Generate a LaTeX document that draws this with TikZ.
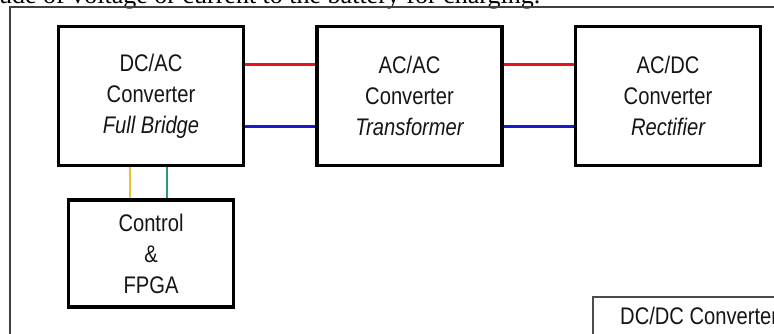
\documentclass[tikz,border=0pt]{standalone}
\usepackage{fontspec}
\newfontfamily\boxfont[FakeStretch=0.84]{Liberation Sans}
\newfontfamily\capfont{Liberation Serif}
\usetikzlibrary{positioning}
\definecolor{txt}{HTML}{151515}
\definecolor{wirered}{HTML}{E8141C}
\definecolor{wireblue}{HTML}{1A1ACC}
\definecolor{wireyellow}{HTML}{F0C030}
\definecolor{wiregreen}{HTML}{2A9A6A}
\tikzset{
  conv/.style={draw=black, line width=3.5pt, minimum width=185pt, minimum height=139pt, align=center, text=txt, inner sep=0pt, font=\boxfont\fontsize{24}{31}\selectfont},
  ctrlbox/.style={draw=black, line width=3.5pt, minimum width=165pt, minimum height=107pt, align=center, text=txt, inner sep=0pt, font=\boxfont\fontsize{24}{31}\selectfont},
  wire/.style={line width=3pt},
  sig/.style={line width=2.5pt},
  frame/.style={draw=black!75, line width=1.5pt}
}

\begin{document}
\begin{tikzpicture}[x=1pt, y=-1pt, node distance=70pt]
  \useasboundingbox (0,0) rectangle (774,333);
  \clip (0,0) rectangle (774,333);
  % cut caption line and outer frame
  \node[anchor=base west, inner sep=0pt, font=\capfont\fontsize{26}{30}\selectfont] (cap) at (-1,3) {ude of voltage or current to the battery for charging.};
  \draw[frame] (10,340) -- (10,7) -- (780,7);

  \node[conv] (dcac) at (151,96) {DC/AC\\Converter\\\itshape Full Bridge};
  \node[conv, right=of dcac] (acac) {AC/AC\\Converter\\\itshape Transformer};
  \node[conv, right=of acac] (acdc) {AC/DC\\Converter\\\itshape Rectifier};
  \node[ctrlbox, below=31pt of dcac] (ctrl) {Control\\\&\\FPGA};

  \draw[wire, wirered] ([yshift=32pt]dcac.east) -- ([yshift=32pt]acac.west);
  \draw[wire, wireblue] ([yshift=-30pt]dcac.east) -- ([yshift=-30pt]acac.west);
  \draw[wire, wirered] ([yshift=32pt]acac.east) -- ([yshift=32pt]acdc.west);
  \draw[wire, wireblue] ([yshift=-30pt]acac.east) -- ([yshift=-30pt]acdc.west);

  \draw[sig, wireyellow] ([xshift=-21pt]dcac.south) -- ([xshift=-21pt]ctrl.north);
  \draw[sig, wiregreen] ([xshift=16pt]dcac.south) -- ([xshift=16pt]ctrl.north);

  % corner of the next block
  \draw[draw=black!70, line width=1.2pt] (593,340) -- (593,297) -- (780,297);
  \node[anchor=base west, inner sep=0pt, text=txt, font=\boxfont\fontsize{24}{31}\selectfont] (dcdc) at (620,324) {DC/DC Converter};
\end{tikzpicture}
\end{document}
